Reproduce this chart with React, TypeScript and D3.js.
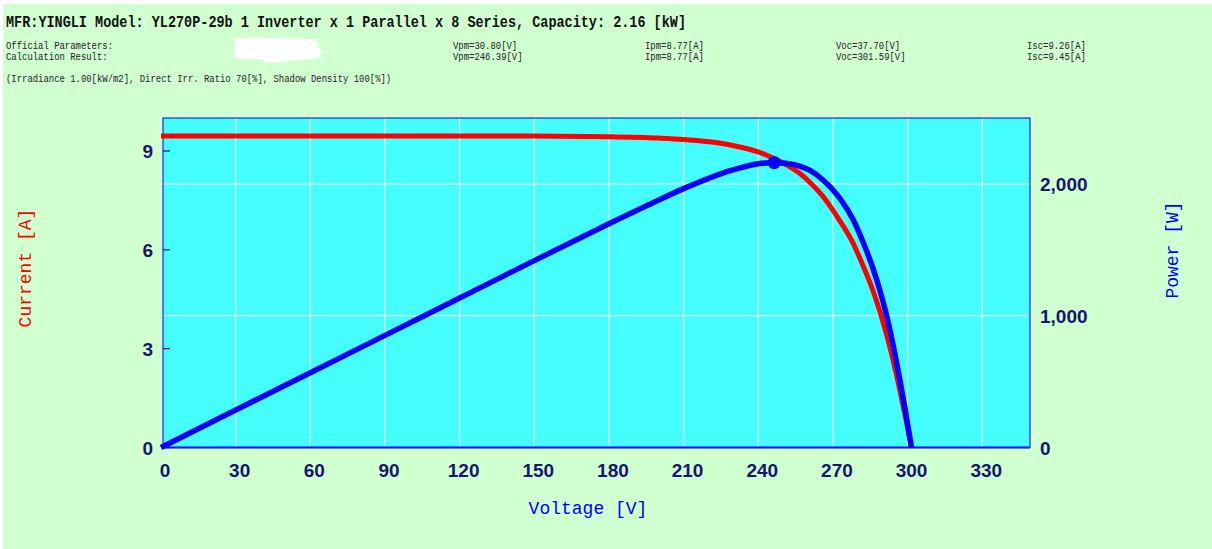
import React from "react";
import { scaleLinear, line, curveMonotoneX } from "d3";

// I-V curve
const ivVoltage = [0, 30, 60, 90, 120, 150, 180, 200, 210, 220, 226, 232.6, 236, 240, 243, 246.39, 251, 257, 261, 266, 269, 272.8, 278.1, 282.2, 286, 289, 291.6, 294, 297, 299, 300, 301.59];
const ivCurrent = [9.45, 9.45, 9.45, 9.45, 9.45, 9.45, 9.43, 9.39, 9.35, 9.28, 9.22, 9.12, 9.06, 8.97, 8.885, 8.77, 8.59, 8.3, 8.03, 7.62, 7.31, 6.88, 6.2, 5.5, 4.78, 4.1, 3.42, 2.7, 1.7, 0.98, 0.6, 0];

// P-V curve
const pvVoltage = [0, 30, 60, 90, 120, 150, 180, 200, 210, 220, 226, 232.6, 236, 240, 243, 246.39, 251, 257, 261, 266, 269, 272.8, 278.1, 282.2, 286, 289, 291.6, 294, 297, 299, 300, 301.59];
const pvPower = [0, 284, 567, 851, 1134, 1418, 1697, 1878, 1964, 2042, 2084, 2121, 2138, 2153, 2159, 2161, 2157, 2133, 2100, 2030, 1975, 1890, 1730, 1555, 1365, 1185, 1000, 795, 505, 293, 180, 0];

const maxPoint = { v: 246.39, p: 2161 };

const voltageTicks = [0, 30, 60, 90, 120, 150, 180, 210, 240, 270, 300, 330];
const currentTicks = [0, 3, 6, 9];
const powerTicks = [0, 1000, 2000];

const title = "MFR:YINGLI Model: YL270P-29b 1 Inverter x 1 Parallel x 8 Series, Capacity: 2.16 [kW]";
const rowLabels = ["Official Parameters:", "Calculation Result:"];
const vpm = ["Vpm=30.80[V]", "Vpm=246.39[V]"];
const ipm = ["Ipm=8.77[A]", "Ipm=8.77[A]"];
const voc = ["Voc=37.70[V]", "Voc=301.59[V]"];
const isc = ["Isc=9.26[A]", "Isc=9.45[A]"];
const conditions = "(Irradiance 1.00[kW/m2], Direct Irr. Ratio 70[%], Shadow Density 100[%])";

const W = 1212;
const H = 549;
const plot = { left: 163, right: 1030, top: 118, bottom: 447.5 };

const mono = "'Liberation Mono', 'DejaVu Sans Mono', monospace";
const sans = "'Liberation Sans', Arial, sans-serif";
const navy = "#16166e";
const charW = 5.35;

export default function App() {
  const x = scaleLinear().domain([0, 350]).range([161, 1032]);
  const yI = scaleLinear().domain([0, 10]).range([plot.bottom, plot.top]);
  const yP = scaleLinear().domain([0, 2500]).range([plot.bottom, plot.top]);

  const ivLine = line<number>()
    .x((_, i) => x(ivVoltage[i]))
    .y((d) => yI(d))
    .curve(curveMonotoneX);
  const pvLine = line<number>()
    .x((_, i) => x(pvVoltage[i]))
    .y((d) => yP(d))
    .curve(curveMonotoneX);

  const small = (txt: string, px: number, py: number, key: string) => (
    <text
      key={key}
      x={px}
      y={py}
      fontFamily={mono}
      fontSize={11}
      fill="#222"
      textLength={txt.length * charW}
      lengthAdjust="spacingAndGlyphs"
    >
      {txt}
    </text>
  );

  return (
    <svg width={W} height={H} style={{ position: "absolute", left: 0, top: 0 }}>
      <rect x={0} y={0} width={W} height={H} fill="#ffffff" />
      <rect x={3} y={4} width={W - 3} height={H - 4} fill="#d0ffd0" />

      {/* header */}
      <text
        x={6}
        y={27}
        fontFamily={mono}
        fontWeight="bold"
        fontSize={16}
        fill="#111"
        textLength={680}
        lengthAdjust="spacingAndGlyphs"
      >
        {title}
      </text>
      {rowLabels.map((t, i) => small(t, 6, 49 + i * 11, "r" + i))}
      {vpm.map((t, i) => small(t, 453, 49 + i * 11, "v" + i))}
      {ipm.map((t, i) => small(t, 645, 49 + i * 11, "i" + i))}
      {voc.map((t, i) => small(t, 836, 49 + i * 11, "o" + i))}
      {isc.map((t, i) => small(t, 1027, 49 + i * 11, "s" + i))}
      {small(conditions, 6, 82, "cond")}
      {/* redacted patch */}
      <path
        d="M234,40 Q236,37 270,38 L314,39 Q320,40 318,47 L322,52 Q323,60 300,60 L280,62 Q265,64 262,59 L238,59 Q233,58 234,52 Z"
        fill="#ffffff"
      />

      {/* plot area */}
      <rect
        x={plot.left}
        y={plot.top}
        width={plot.right - plot.left}
        height={plot.bottom - plot.top}
        fill="#45ffff"
      />
      {voltageTicks.slice(1).map((v) => (
        <line key={"gx" + v} x1={x(v)} x2={x(v)} y1={plot.top} y2={plot.bottom} stroke="#ffffff" strokeWidth={1} />
      ))}
      {powerTicks.slice(1).map((p) => (
        <line key={"gy" + p} x1={plot.left} x2={plot.right} y1={yP(p)} y2={yP(p)} stroke="#ffffff" strokeWidth={1} />
      ))}
      <rect
        x={plot.left}
        y={plot.top}
        width={plot.right - plot.left}
        height={plot.bottom - plot.top}
        fill="none"
        stroke="#2222ff"
        strokeWidth={1.2}
      />
      <line x1={plot.left} x2={plot.right} y1={plot.bottom} y2={plot.bottom} stroke="#1010ee" strokeWidth={2} />

      {/* left ticks */}
      {currentTicks.map((c) => (
        <g key={"yl" + c}>
          <line x1={plot.left} x2={plot.left + 7} y1={yI(c)} y2={yI(c)} stroke={navy} strokeWidth={1.2} />
          <text x={153} y={yI(c) + 7} textAnchor="end" fontFamily={sans} fontWeight="bold" fontSize={19} fill={navy}>
            {c}
          </text>
        </g>
      ))}
      {/* right ticks */}
      {powerTicks.map((p) => (
        <text key={"yr" + p} x={1040} y={yP(p) + 7} fontFamily={sans} fontWeight="bold" fontSize={19} fill={navy}>
          {p.toLocaleString("en-US")}
        </text>
      ))}
      {/* bottom ticks */}
      {voltageTicks.map((v) => (
        <text key={"xt" + v} x={x(v) + 4} y={477} textAnchor="middle" fontFamily={sans} fontWeight="bold" fontSize={19} fill={navy}>
          {v}
        </text>
      ))}

      {/* curves */}
      <path d={ivLine(ivCurrent) || ""} fill="none" stroke="#ff0000" strokeWidth={5} />
      <path d={pvLine(pvPower) || ""} fill="none" stroke="#0000ff" strokeWidth={5.5} />
      <circle cx={x(maxPoint.v)} cy={yP(maxPoint.p)} r={6.5} fill="#0000ff" />

      {/* axis titles */}
      <text x={588} y={514} textAnchor="middle" fontFamily={mono} fontSize={18} fill="#0000ff">
        Voltage [V]
      </text>
      <text transform="translate(31,268) rotate(-90)" textAnchor="middle" fontFamily={mono} fontSize={18} fill="#ff0000">
        Current [A]
      </text>
      <text transform="translate(1178,250) rotate(-90)" textAnchor="middle" fontFamily={mono} fontSize={18} fill="#0000ff">
        Power [W]
      </text>
    </svg>
  );
}
